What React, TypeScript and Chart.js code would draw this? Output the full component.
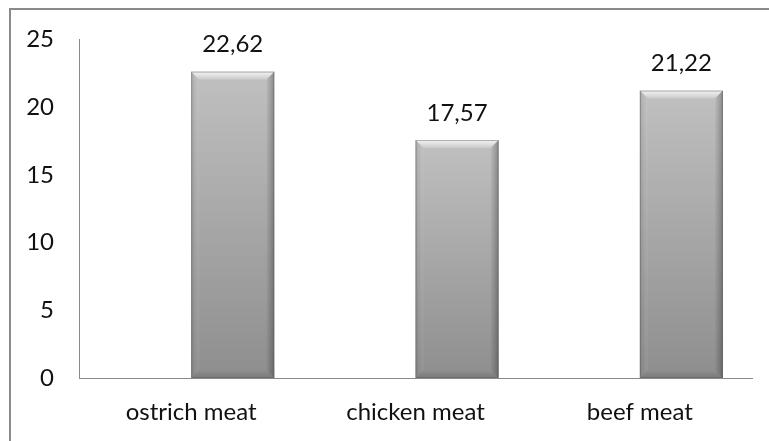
import React, { useEffect, useRef } from "react";
import { Chart, registerables } from "chart.js";

Chart.register(...registerables);

const categories = ["ostrich meat", "chicken meat", "beef meat"];
const values = [22.62, 17.57, 21.22];
const valueLabels = ["22,62", "17,57", "21,22"];
const spacer = [null, null, null];
const yMin = 0;
const yMax = 25;
const yStep = 5;

const FONT = "Lato, 'Open Sans', sans-serif";

const bevelPlugin = {
  id: "bevelBars",
  afterDatasetsDraw(chart: any) {
    const ctx = chart.ctx;
    const meta = chart.getDatasetMeta(1);
    meta.data.forEach((bar: any, i: number) => {
      const p = bar.getProps(["x", "y", "base", "width"], true);
      const L = p.x - p.width / 2;
      const R = p.x + p.width / 2;
      const T = Math.min(p.y, p.base);
      const B = Math.max(p.y, p.base);
      const b = 8;
      ctx.save();
      // face
      const g = ctx.createLinearGradient(0, T, 0, B);
      g.addColorStop(0, "#c0c0c0");
      g.addColorStop(1, "#8e8e8e");
      ctx.fillStyle = g;
      ctx.fillRect(L, T, R - L, B - T);
      // top bevel
      const gt = ctx.createLinearGradient(0, T, 0, T + b);
      gt.addColorStop(0, "rgba(255,255,255,0.85)");
      gt.addColorStop(1, "rgba(255,255,255,0.15)");
      ctx.fillStyle = gt;
      ctx.beginPath();
      ctx.moveTo(L, T);
      ctx.lineTo(R, T);
      ctx.lineTo(R - b, T + b);
      ctx.lineTo(L + b, T + b);
      ctx.closePath();
      ctx.fill();
      // left bevel
      const gl = ctx.createLinearGradient(L, 0, L + b, 0);
      gl.addColorStop(0, "rgba(0,0,0,0.12)");
      gl.addColorStop(1, "rgba(255,255,255,0.05)");
      ctx.fillStyle = gl;
      ctx.beginPath();
      ctx.moveTo(L, T);
      ctx.lineTo(L + b, T + b);
      ctx.lineTo(L + b, B - b);
      ctx.lineTo(L, B);
      ctx.closePath();
      ctx.fill();
      // right bevel
      const gr = ctx.createLinearGradient(R, 0, R - b, 0);
      gr.addColorStop(0, "rgba(0,0,0,0.28)");
      gr.addColorStop(1, "rgba(0,0,0,0.02)");
      ctx.fillStyle = gr;
      ctx.beginPath();
      ctx.moveTo(R, T);
      ctx.lineTo(R - b, T + b);
      ctx.lineTo(R - b, B - b);
      ctx.lineTo(R, B);
      ctx.closePath();
      ctx.fill();
      // bottom bevel
      const gb = ctx.createLinearGradient(0, B, 0, B - b);
      gb.addColorStop(0, "rgba(0,0,0,0.15)");
      gb.addColorStop(1, "rgba(0,0,0,0.0)");
      ctx.fillStyle = gb;
      ctx.beginPath();
      ctx.moveTo(L, B);
      ctx.lineTo(R, B);
      ctx.lineTo(R - b, B - b);
      ctx.lineTo(L + b, B - b);
      ctx.closePath();
      ctx.fill();
      // outline
      ctx.strokeStyle = "rgba(90,90,90,0.45)";
      ctx.lineWidth = 1;
      ctx.strokeRect(L + 0.5, T + 0.5, R - L - 1, B - T - 1);
      // value label
      ctx.fillStyle = "#111111";
      ctx.font = `24px ${FONT}`;
      ctx.textAlign = "center";
      ctx.textBaseline = "middle";
      ctx.fillText(valueLabels[i], p.x, T - 27);
      ctx.restore();
    });
  },
};

export default function App() {
  const ref = useRef<HTMLCanvasElement | null>(null);
  useEffect(() => {
    if (!ref.current) return;
    const chart = new Chart(ref.current, {
      type: "bar",
      data: {
        labels: categories,
        datasets: [
          {
            data: spacer as any,
            backgroundColor: "rgba(0,0,0,0)",
            categoryPercentage: 0.741,
            barPercentage: 1,
          },
          {
            data: values,
            backgroundColor: "rgba(0,0,0,0)",
            borderWidth: 0,
            categoryPercentage: 0.741,
            barPercentage: 1,
          },
        ],
      },
      options: {
        animation: false,
        responsive: false,
        maintainAspectRatio: false,
        events: [],
        layout: { padding: { top: 38, right: 17, left: 0, bottom: 0 } },
        plugins: {
          legend: { display: false },
          tooltip: { enabled: false },
          title: { display: false },
        },
        scales: {
          x: {
            grid: { display: false, drawTicks: false },
            border: { display: true, color: "#8a8a8a", width: 1 },
            ticks: {
              font: { family: FONT, size: 24 },
              color: "#111111",
              padding: 20,
              maxRotation: 0,
            },
            afterFit(scale: any) {
              scale.height = 63;
            },
          },
          y: {
            min: yMin,
            max: yMax,
            grid: { display: false, drawTicks: false },
            border: { display: true, color: "#8a8a8a", width: 1 },
            ticks: {
              stepSize: yStep,
              font: { family: FONT, size: 24 },
              color: "#111111",
              padding: 25,
            },
            afterFit(scale: any) {
              scale.width = 79;
            },
          },
        },
      },
      plugins: [bevelPlugin],
    });
    return () => chart.destroy();
  }, []);

  return (
    <>
      <div
        style={{
          position: "fixed",
          left: 0,
          top: 0,
          width: 769,
          height: 441,
          background: "#ffffff",
        }}
      >
        <canvas ref={ref} width={769} height={441} style={{ display: "block", width: 769, height: 441 }} />
      </div>
      <div
        style={{
          position: "fixed",
          left: 9,
          top: 8,
          width: 900,
          height: 600,
          border: "2px solid #8a8a8a",
          pointerEvents: "none",
        }}
      />
    </>
  );
}
